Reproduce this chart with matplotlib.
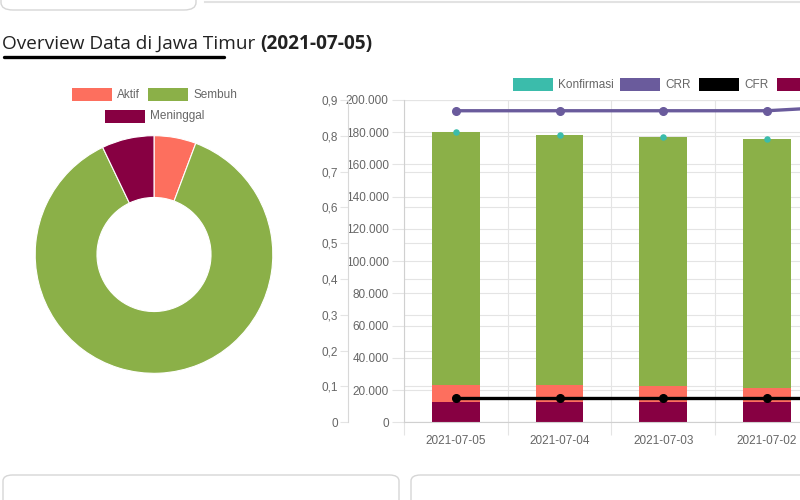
import matplotlib
matplotlib.use("Agg")
import matplotlib.pyplot as plt
from matplotlib.patches import Rectangle, FancyBboxPatch
from matplotlib.lines import Line2D
from matplotlib.ticker import FuncFormatter, MultipleLocator, FixedLocator

# ---------------- data ----------------
dates = ["2021-07-05", "2021-07-04", "2021-07-03", "2021-07-02", "2021-07-01"]
konfirmasi = [180100, 178400, 176900, 175600, 174300]
meninggal = [12800, 12750, 12700, 12650, 12600]
aktif = [10300, 10200, 9700, 8700, 7800]
sembuh = [157000, 155450, 154500, 154250, 153900]
crr = [0.870, 0.870, 0.870, 0.870, 0.886]
cfr = [0.069, 0.069, 0.069, 0.069, 0.069]

donut_labels = ["Aktif", "Sembuh", "Meninggal"]
donut_values = [aktif[0], sembuh[0], meninggal[0]]

C_AKTIF = "#fd6f5e"
C_SEMBUH = "#8bb048"
C_MENINGGAL = "#870042"
C_KONF = "#3bbcab"
C_CRR = "#6a5b9c"
C_CFR = "#000000"
GRID = "#e4e4e4"
TXT = "#666666"

plt.rcParams["font.family"] = ["Liberation Sans", "DejaVu Sans"]

W, H = 800, 500
fig = plt.figure(figsize=(8, 5), dpi=100)


def fx(px):
    return px / W


def fy(py):
    return 1 - py / H


# ---------------- page decoration ----------------
fig.add_artist(FancyBboxPatch((fx(1), fy(10)), fx(195), 0.1,
                              boxstyle="round,pad=0,rounding_size=0.015",
                              transform=fig.transFigure, fc="white",
                              ec="#d6d6d6", lw=1))
fig.add_artist(Line2D([fx(205), 1], [fy(2), fy(2)], color="#e2e2e2", lw=1.5,
                      transform=fig.transFigure))
fig.add_artist(FancyBboxPatch((fx(3), fy(520)), fx(396), fy(475) - fy(520),
                              boxstyle="round,pad=0,rounding_size=0.012",
                              transform=fig.transFigure, fc="white",
                              ec="#d6d6d6", lw=1))
fig.add_artist(FancyBboxPatch((fx(411), fy(520)), fx(420), fy(475) - fy(520),
                              boxstyle="round,pad=0,rounding_size=0.012",
                              transform=fig.transFigure, fc="white",
                              ec="#d6d6d6", lw=1))

# ---------------- title ----------------
t1 = fig.text(fx(2), fy(44), "Overview Data di Jawa Timur ", family="Open Sans",
              fontsize=13.7, color="#222222", va="center", ha="left")
fig.canvas.draw()
bb = t1.get_window_extent()
fig.text(bb.x1 / W, fy(44), "(2021-07-05)", family="Open Sans", fontsize=13.7,
         fontweight="bold", color="#222222", va="center", ha="left")
fig.add_artist(Line2D([fx(4), fx(224)], [fy(57), fy(57)], color="black",
                      lw=2.4, solid_capstyle="round", transform=fig.transFigure))

# ---------------- donut ----------------
cx, cy, r = 154, 254.5, 120
axd = fig.add_axes([fx(cx - r), fy(cy + r), fx(2 * r), (2 * r) / H])
axd.pie(donut_values, colors=[C_AKTIF, C_SEMBUH, C_MENINGGAL], startangle=90,
        counterclock=False, radius=1,
        wedgeprops=dict(width=0.52, edgecolor="white", linewidth=0.8))
axd.set_xlim(-1.01, 1.01)
axd.set_ylim(-1.01, 1.01)
axd.set_aspect("equal")
axd.axis("off")

# donut legend
for lab, col, bx, by in zip(donut_labels, [C_AKTIF, C_SEMBUH, C_MENINGGAL],
                            [72, 148, 105], [88, 88, 110]):
    fig.add_artist(Rectangle((fx(bx), fy(by + 13)), fx(40), 13 / H,
                             transform=fig.transFigure, fc=col, ec="none"))
    fig.text(fx(bx + 45), fy(by + 6.5), lab, fontsize=8.5, color=TXT,
             va="center", ha="left")

# ---------------- combo chart ----------------
x0, ytop, ybot, step = 404, 100, 422.3, 103.7
ax = fig.add_axes([fx(x0), fy(ybot), fx(step * 5), (ybot - ytop) / H])
xs = list(range(len(dates)))

ax.bar(xs, meninggal, width=0.46, color=C_MENINGGAL, zorder=2)
ax.bar(xs, aktif, width=0.46, bottom=meninggal, color=C_AKTIF, zorder=2)
bot2 = [m + a for m, a in zip(meninggal, aktif)]
ax.bar(xs, sembuh, width=0.46, bottom=bot2, color=C_SEMBUH, zorder=2)
ax.scatter(xs, konfirmasi, s=22, color=C_KONF, zorder=4, linewidths=0)

ax.set_xlim(-0.5, len(dates) - 0.5)
ax.set_ylim(0, 200000)
ax.yaxis.set_major_locator(MultipleLocator(20000))
ax.yaxis.set_major_formatter(FuncFormatter(lambda v, p: f"{int(v):,}".replace(",", ".")))
ax.set_xticks(xs)
ax.set_xticklabels(dates)
ax.xaxis.set_minor_locator(FixedLocator([i - 0.5 for i in range(len(dates) + 1)]))
ax.tick_params(axis="x", which="major", length=0, pad=9, labelsize=8.5, labelcolor=TXT)
ax.tick_params(axis="x", which="minor", length=9, color=GRID, width=0.8)
ax.tick_params(axis="y", length=9, color=GRID, width=0.8, pad=2,
               labelsize=8.5, labelcolor=TXT)
ax.grid(True, axis="y", color=GRID, lw=0.8, zorder=0)
ax.grid(True, axis="x", which="minor", color=GRID, lw=0.8, zorder=0)
# ratio grid lines drawn behind bars on the count axis
ratio_ticks = [i / 10 for i in range(10)]
for v in ratio_ticks:
    ax.axhline(v / 0.9 * 200000, color=GRID, lw=0.8, zorder=0)
for s in ["top", "right"]:
    ax.spines[s].set_visible(False)
ax.spines["left"].set_color("#d0d0d0")
ax.spines["bottom"].set_color("#d0d0d0")
ax.set_axisbelow(True)

ax2 = ax.twinx()
ax2.plot(xs, crr, color=C_CRR, lw=2.4, marker="o", ms=5.5, zorder=5)
ax2.plot(xs, cfr, color=C_CFR, lw=2.4, marker="o", ms=5.5, zorder=5)
ax2.set_ylim(0, 0.9)
ax2.yaxis.set_major_locator(FixedLocator(ratio_ticks))
ax2.yaxis.set_major_formatter(FuncFormatter(lambda v, p: "0" if v == 0 else f"{v:.1f}".replace(".", ",")))
ax2.yaxis.set_ticks_position("left")
ax2.yaxis.set_label_position("left")
ax2.spines["left"].set_position(("outward", 40.3))
ax2.spines["left"].set_visible(True)
ax2.spines["left"].set_color("#d8d8d8")
for s in ["top", "right", "bottom"]:
    ax2.spines[s].set_visible(False)
ax2.tick_params(axis="y", length=6, color=GRID, width=0.8, pad=1,
                labelsize=8.5, labelcolor=TXT)

# chart legend (last item runs past the page edge)
leg_labels = ["Konfirmasi", "CRR", "CFR", "Meninggal"]
leg_cols = [C_KONF, C_CRR, C_CFR, C_MENINGGAL]
for lab, col, bx in zip(leg_labels, leg_cols, [513, 620, 699, 777]):
    fig.add_artist(Rectangle((fx(bx), fy(91)), fx(40), 13 / H,
                             transform=fig.transFigure, fc=col, ec="none"))
    fig.text(fx(bx + 45), fy(84.5), lab, fontsize=8.5, color=TXT,
             va="center", ha="left")

fig.savefig("out.png", dpi=100)
